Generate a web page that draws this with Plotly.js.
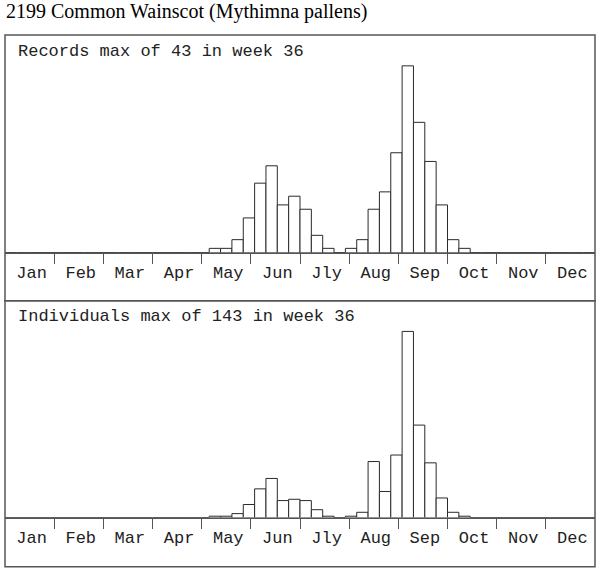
<!DOCTYPE html>
<html>
<head>
<meta charset="utf-8">
<script src="https://cdn.plot.ly/plotly-3.0.1.min.js"></script>
<style>
  html, body { margin: 0; padding: 0; background: #fff; }
  #chart { width: 600px; height: 573px; }
</style>
</head>
<body>
<div id="chart"></div>
<script>
// weekly totals, week 1..52
const chartTitle = '2199 Common Wainscot (Mythimna pallens)';
const months = ['Jan','Feb','Mar','Apr','May','Jun','Jly','Aug','Sep','Oct','Nov','Dec'];
const records = [0,0,0,0,0,0,0,0,0,0,0,0,0,0,0,0,0,0,
                 1,1,3,8,16,20,11,13,10,4,1,0,1,3,10,14,23,43,30,21,11,3,1,
                 0,0,0,0,0,0,0,0,0,0,0];
const individuals = [0,0,0,0,0,0,0,0,0,0,0,0,0,0,0,0,0,0,
                     1,1,3,10,22,30,13,14,13,6,1,0,1,4,43,20,48,143,71,42,15,4,1,
                     0,0,0,0,0,0,0,0,0,0,0];

const W = 600, H = 573;
const px = v => v / W;
const py = v => 1 - v / H;

const weeks = records.map((_, i) => i + 0.5);
const monthMid = months.map((_, i) => (i + 0.5) * 52 / 12);
const monthEdge = months.slice(1).map((_, i) => (i + 1) * 52 / 12);

function peak(arr){
  let m = Math.max(...arr);
  return {max: m, week: arr.indexOf(m) + 1};
}

function barTrace(y, xa, ya){
  return {
    x: weeks, y: y, type: 'bar', width: 1,
    xaxis: xa, yaxis: ya,
    marker: {color: '#ffffff', line: {color: '#2a2a2a', width: 1}},
    hoverinfo: 'skip', showlegend: false
  };
}

function xAxis(anchor){
  return {
    anchor: anchor, domain: [px(5), px(595)], range: [0, 52],
    showgrid: false, zeroline: false,
    showline: true, linecolor: '#555', linewidth: 1,
    tickvals: monthMid, ticktext: months, ticks: '',
    ticklabelstandoff: 4, ticklabelshift: 2,
    tickfont: {family: 'Liberation Mono, Courier New, monospace', size: 17, color: '#222'},
    minor: {tickvals: monthEdge, ticks: 'outside', ticklen: 10, tickcolor: '#555', tickwidth: 1},
    fixedrange: true
  };
}

function yAxis(domain, m){
  return {
    domain: domain, range: [0, m * 1.165],
    visible: false, showgrid: false, zeroline: false, fixedrange: true
  };
}

const pr = peak(records), pi = peak(individuals);

const data = [barTrace(records, 'x', 'y'), barTrace(individuals, 'x2', 'y2')];

const panelFont = {family: 'Liberation Mono, Courier New, monospace', size: 17, color: '#222'};

const layout = {
  width: W, height: H,
  margin: {l: 0, r: 0, t: 0, b: 0},
  paper_bgcolor: '#fff', plot_bgcolor: 'rgba(0,0,0,0)',
  bargap: 0,
  xaxis: xAxis('y'),
  yaxis: yAxis([py(252.7), py(35)], pr.max),
  xaxis2: xAxis('y2'),
  yaxis2: yAxis([py(517.5), py(300.7)], pi.max),
  shapes: [
    {type: 'rect', xref: 'paper', yref: 'paper', x0: px(5), x1: px(595), y0: py(300.7), y1: py(35),
     line: {color: '#555', width: 1.5}},
    {type: 'rect', xref: 'paper', yref: 'paper', x0: px(5), x1: px(595), y0: py(566.7), y1: py(300.7),
     line: {color: '#555', width: 1.5}}
  ],
  annotations: [
    {text: chartTitle, xref: 'paper', yref: 'paper', x: px(4), y: py(11),
     xanchor: 'left', yanchor: 'middle', showarrow: false,
     font: {family: 'Liberation Serif, Times New Roman, serif', size: 20, color: '#000'}},
    {text: 'Records max of ' + pr.max + ' in week ' + pr.week, xref: 'paper', yref: 'paper',
     x: px(16), y: py(51), xanchor: 'left', yanchor: 'middle', showarrow: false, font: panelFont},
    {text: 'Individuals max of ' + pi.max + ' in week ' + pi.week, xref: 'paper', yref: 'paper',
     x: px(16), y: py(316), xanchor: 'left', yanchor: 'middle', showarrow: false, font: panelFont}
  ]
};

Plotly.newPlot('chart', data, layout, {staticPlot: true});
</script>
</body>
</html>
